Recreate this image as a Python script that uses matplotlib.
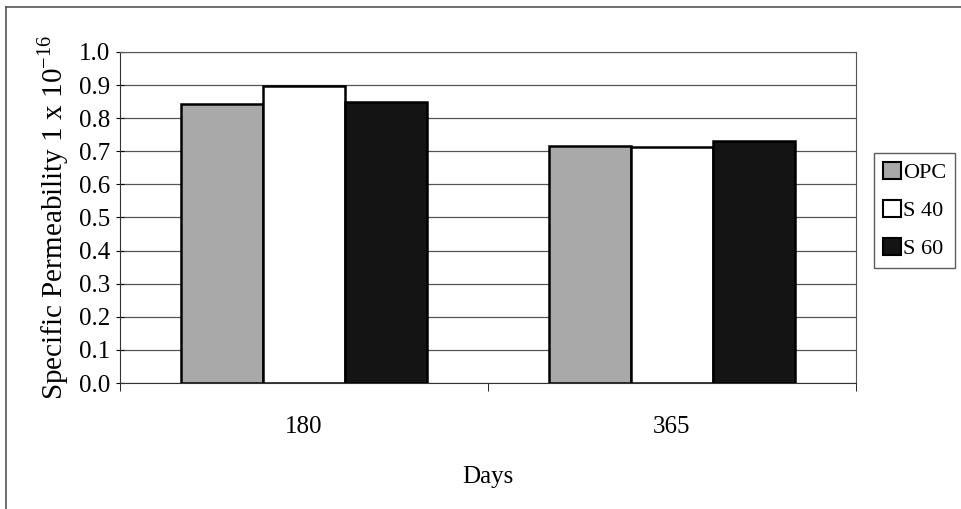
import numpy as np
import matplotlib.pyplot as plt
from matplotlib.lines import Line2D

days = ['180', '365']
series = ['OPC', 'S 40', 'S 60']
opc = [0.843, 0.717]
s40 = [0.897, 0.712]
s60 = [0.849, 0.730]

colors = ['#a9a9a9', 'white', '#141414']

plt.rcParams['font.family'] = ['Liberation Serif', 'DejaVu Serif']
plt.rcParams['mathtext.fontset'] = 'custom'
plt.rcParams['mathtext.rm'] = 'Liberation Serif'

fig = plt.figure(figsize=(9.62, 5.09), dpi=100)
ax = fig.add_axes([0.1247, 0.2475, 0.7651, 0.6505])

x = np.arange(len(days))
w = 0.223
for i, (name, vals) in enumerate(zip(series, [opc, s40, s60])):
    ax.bar(x + (i - 1) * w, vals, w, color=colors[i], edgecolor='black',
           linewidth=1.8, label=name, zorder=3)

ax.set_xlim(-0.5, 1.5)
ax.set_ylim(0, 1.0)
ticks = np.arange(0, 1.01, 0.1)
ax.set_yticks(ticks)
ax.set_yticklabels([f'{v:.1f}' for v in ticks], fontsize=18)
ax.yaxis.grid(True, color='#555555', linewidth=0.9, zorder=0)
ax.set_xticks(x)
ax.set_xticklabels(days, fontsize=18)
ax.tick_params(axis='x', length=0, pad=24)
ax.set_xticks([-0.5, 0.5, 1.5], minor=True)
ax.tick_params(axis='x', which='minor', length=6, direction='out')
ax.tick_params(axis='y', length=6, direction='inout', pad=4)

for s in ['left', 'bottom']:
    ax.spines[s].set_color('#333333')
for s in ['top', 'right']:
    ax.spines[s].set_color('#555555')

ax.set_xlabel('Days', fontsize=18, labelpad=20)
ax.set_ylabel('Specific Permeability 1 x 10$^{\\mathrm{-16}}$', fontsize=21, labelpad=6)

leg = ax.legend(loc='upper left', bbox_to_anchor=(874 / 962, 1 - 153 / 509),
                bbox_transform=fig.transFigure, borderaxespad=0, fontsize=16,
                frameon=True, fancybox=False, edgecolor='#333333',
                handlelength=0.8, handleheight=0.8, handletextpad=0.1,
                borderpad=0.4, labelspacing=0.75)
leg.get_frame().set_linewidth(1.0)
for p in leg.get_patches():
    p.set_linewidth(1.5)

# outer chart frame (only left and top edges visible in the scan)
fig.add_artist(Line2D([0.0065, 0.0065], [0, 1 - 7 / 509], transform=fig.transFigure,
                      color='#555555', linewidth=1.2))
fig.add_artist(Line2D([0.0065, 1], [1 - 7 / 509, 1 - 7 / 509], transform=fig.transFigure,
                      color='#555555', linewidth=1.2))

fig.savefig('out.png', dpi=100)
